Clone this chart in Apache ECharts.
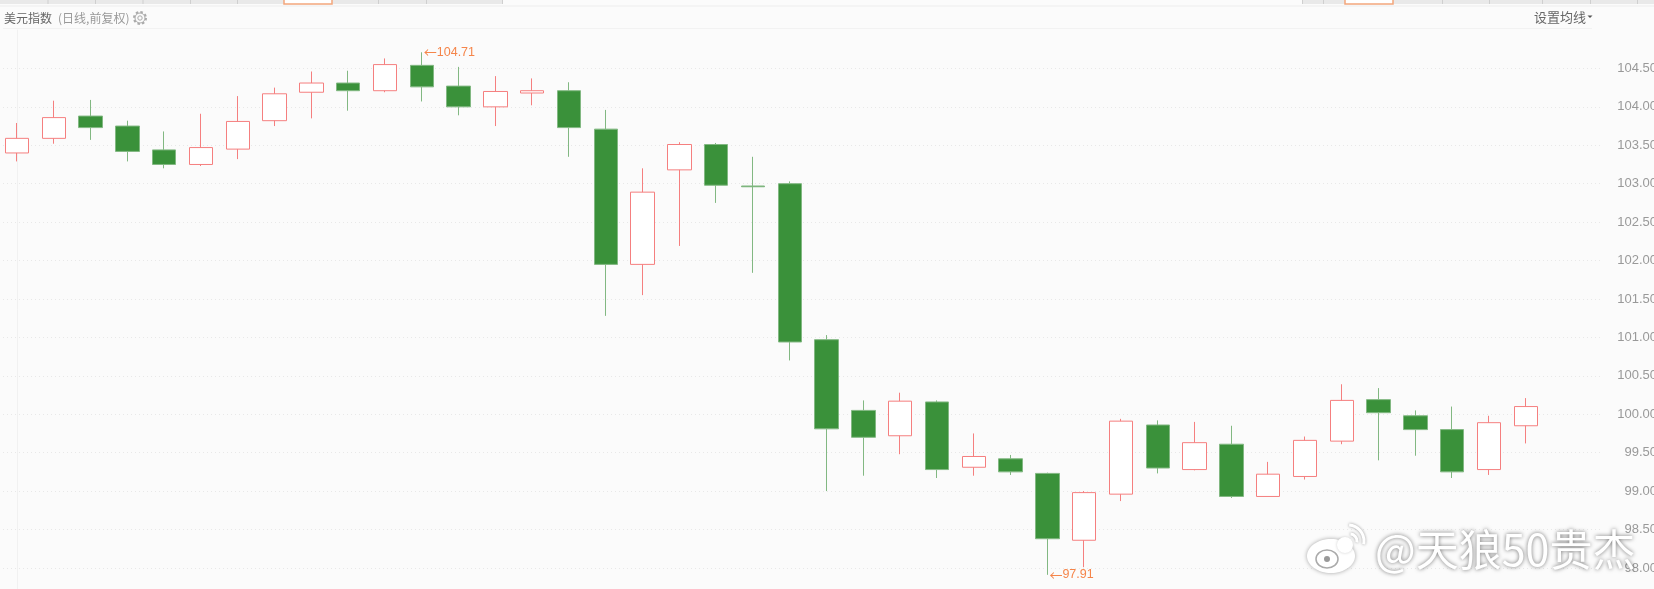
<!DOCTYPE html>
<html>
<head>
<meta charset="utf-8">
<style>
  html, body { margin: 0; padding: 0; background: #fbfbfb; }
  #chart { width: 1654px; height: 589px; }
</style>
</head>
<body>
<div id="chart"></div>
<script src="https://cdn.jsdelivr.net/npm/echarts@6/dist/echarts.min.js"></script>
<script>
  // 日K 数据
  const opens = [103.40, 103.59, 103.88, 103.75, 103.44, 103.25, 103.45, 103.82, 104.19, 104.31, 104.21, 104.54, 104.27, 104.00, 104.18, 104.21, 103.71, 101.95, 103.18, 103.51, 102.97, 103.00, 100.97, 100.05, 99.72, 100.16, 99.31, 99.42, 99.23, 98.36, 98.96, 99.86, 99.28, 99.61, 98.93, 99.19, 99.65, 100.19, 99.98, 99.80, 99.28, 99.85]
  const closes = [103.59, 103.86, 103.73, 103.42, 103.25, 103.47, 103.81, 104.17, 104.31, 104.21, 104.55, 104.26, 104.00, 104.20, 104.21, 103.73, 101.95, 102.89, 103.51, 102.98, 102.96, 100.94, 99.81, 99.70, 100.17, 99.28, 99.45, 99.25, 98.38, 98.98, 99.91, 99.30, 99.63, 98.93, 99.22, 99.66, 100.18, 100.02, 99.80, 99.25, 99.89, 100.10]
  const lows = [103.29, 103.52, 103.57, 103.29, 103.20, 103.23, 103.32, 103.75, 103.85, 103.95, 104.19, 104.07, 103.89, 103.75, 104.02, 103.35, 101.28, 101.55, 102.19, 102.75, 101.84, 100.70, 99.00, 99.20, 99.48, 99.17, 99.20, 99.21, 97.91, 98.01, 98.87, 99.23, 99.27, 98.91, 98.93, 99.15, 99.61, 99.40, 99.46, 99.17, 99.21, 99.62]
  const highs = [103.79, 104.08, 104.09, 103.82, 103.68, 103.91, 104.14, 104.25, 104.46, 104.47, 104.63, 104.71, 104.52, 104.40, 104.37, 104.32, 103.96, 103.20, 103.54, 103.53, 103.35, 103.03, 101.03, 100.18, 100.28, 100.18, 99.75, 99.47, 99.24, 99.00, 99.94, 99.92, 99.90, 99.85, 99.38, 99.71, 100.39, 100.34, 100.05, 100.10, 99.98, 100.21]
  const highIndex = 11
  const lowIndex = 28

  const candleData = opens.map((open, i) => [i, open, closes[i], lows[i], highs[i]])

  // 顶部标签栏的分隔位置
  const leftTabs = [47.5, 95, 142.5, 190, 237, 378, 426, 502]
  const rightTabs = [1302, 1323, 1442, 1489, 1542, 1590, 1637]

  const tabElements = []
  tabElements.push({ type: 'rect', shape: { x: 0, y: 0, width: 503, height: 4 }, style: { fill: '#e9e9e9' }, silent: true })
  tabElements.push({ type: 'rect', shape: { x: 1302, y: 0, width: 352, height: 4 }, style: { fill: '#e9e9e9' }, silent: true })
  leftTabs.concat(rightTabs).forEach(x => {
    tabElements.push({ type: 'rect', shape: { x: x, y: 0, width: 1, height: 4 }, style: { fill: '#cfcfcf' }, silent: true })
  })
  // 选中的标签
  ;[[284, 48], [1345, 48]].forEach(t => {
    tabElements.push({ type: 'rect', shape: { x: t[0], y: -2, width: t[1], height: 6 }, style: { fill: '#ffffff', stroke: '#f3a67c', lineWidth: 1.5 }, silent: true })
  })

  const graphicElements = tabElements.concat([
    { type: 'rect', shape: { x: 0, y: 5.5, width: 1654, height: 1 }, style: { fill: '#eeeeee' }, silent: true },
    { type: 'rect', shape: { x: 3, y: 28, width: 1589, height: 1 }, style: { fill: '#f2f2f2' }, silent: true },
    { type: 'text', style: { text: '美元指数', x: 4, y: 18, fill: '#666666', font: '12px "Noto Sans CJK SC"', verticalAlign: 'middle' }, silent: true },
    { type: 'text', style: { text: '(日线,前复权)', x: 58, y: 18, fill: '#999999', font: '12px "Noto Sans CJK SC"', verticalAlign: 'middle' }, silent: true },
    // 齿轮图标
    { type: 'circle', shape: { cx: 140, cy: 18, r: 5.8 }, style: { fill: 'none', stroke: '#aaaaaa', lineWidth: 2.4, lineDash: [2.4, 2.1] }, silent: true },
    { type: 'circle', shape: { cx: 140, cy: 18, r: 5 }, style: { fill: '#fbfbfb', stroke: '#aaaaaa', lineWidth: 1 }, silent: true },
    { type: 'circle', shape: { cx: 140, cy: 18, r: 2.2 }, style: { fill: 'none', stroke: '#aaaaaa', lineWidth: 1 }, silent: true },
    { type: 'text', style: { text: '设置均线', x: 1534, y: 17.5, fill: '#666666', font: '13px "Noto Sans CJK SC"', verticalAlign: 'middle' }, silent: true },
    { type: 'polygon', shape: { points: [[1587.5, 15.5], [1592.5, 15.5], [1590, 18]] }, style: { fill: '#555555' }, silent: true },
    // 水印
    { type: 'ellipse', z: 50, shape: { cx: 1331, cy: 556, rx: 24, ry: 17 }, style: { fill: '#ffffff', shadowBlur: 4, shadowColor: 'rgba(0,0,0,0.35)' }, silent: true },
    { type: 'circle', z: 50, shape: { cx: 1345, cy: 545, r: 8 }, style: { fill: '#ffffff', shadowBlur: 3, shadowColor: 'rgba(0,0,0,0.2)' }, silent: true },
    { type: 'ellipse', z: 51, shape: { cx: 1327, cy: 559, rx: 11, ry: 9 }, style: { fill: '#ffffff', stroke: '#aaaaaa', lineWidth: 1.5 }, silent: true },
    { type: 'circle', z: 51, shape: { cx: 1327, cy: 559, r: 3 }, style: { fill: '#999999' }, silent: true },
    { type: 'arc', z: 50, shape: { cx: 1350, cy: 541, r: 7, startAngle: -1.5, endAngle: 0.2 }, style: { fill: 'none', stroke: '#ffffff', lineWidth: 3, shadowBlur: 3, shadowColor: 'rgba(0,0,0,0.4)' }, silent: true },
    { type: 'arc', z: 50, shape: { cx: 1348, cy: 541, r: 16, startAngle: -1.5, endAngle: 0.2 }, style: { fill: 'none', stroke: '#ffffff', lineWidth: 3, shadowBlur: 3, shadowColor: 'rgba(0,0,0,0.4)' }, silent: true },
    { type: 'text', z: 50, style: { text: '@天狼50贵杰', x: 1375, y: 550, fill: '#ffffff', font: '43px "Noto Sans CJK SC"', verticalAlign: 'middle', textShadowBlur: 4, textShadowColor: 'rgba(0,0,0,0.55)' }, silent: true }
  ])

  const chart = echarts.init(document.getElementById('chart'))
  chart.setOption({
    animation: false,
    backgroundColor: '#fbfbfb',
    graphic: graphicElements,
    grid: { left: 3, width: 1599, top: 30, height: 576.35, outerBoundsMode: 'none' },
    xAxis: {
      type: 'value',
      min: -0.38,
      max: 43.07,
      show: false,
      splitLine: { show: false }
    },
    yAxis: {
      type: 'value',
      position: 'right',
      min: 97.5,
      max: 105,
      interval: 0.5,
      axisLine: { show: true, lineStyle: { color: '#f1f1f1', width: 1 } },
      axisTick: { show: false },
      axisLabel: {
        color: '#999999',
        fontSize: 13,
        fontFamily: '"Liberation Sans", Arial, sans-serif',
        align: 'right',
        margin: 55,
        padding: [3, 0, 0, 0],
        showMaxLabel: false,
        showMinLabel: false,
        formatter: value => value.toFixed(2)
      },
      splitLine: {
        show: true,
        showMaxLine: false,
        lineStyle: { color: '#e8e8e8', type: [1, 3], width: 1 }
      }
    },
    series: [
      {
        type: 'candlestick',
        barWidth: 24,
        encode: { x: 0, y: [1, 2, 3, 4] },
        data: candleData,
        itemStyle: {
          color: '#ffffff',
          color0: '#3a913a',
          borderColor: '#f57f7f',
          borderColor0: '#82b882',
          borderWidth: 1
        },
        markPoint: {
          symbol: 'circle',
          symbolSize: 0,
          silent: true,
          label: {
            show: true,
            position: 'right',
            distance: 2,
            color: '#f5854a',
            rich: {
              a: { fontFamily: '"Noto Sans CJK SC"', fontSize: 13, color: '#f5854a' },
              b: { fontFamily: '"Liberation Sans", Arial, sans-serif', fontSize: 12.5, color: '#f5854a' }
            }
          },
          data: [
            { coord: [highIndex, highs[highIndex]], value: highs[highIndex], label: { formatter: '{a|←}{b|' + highs[highIndex].toFixed(2) + '}' } },
            { coord: [lowIndex, lows[lowIndex]], value: lows[lowIndex], label: { formatter: '{a|←}{b|' + lows[lowIndex].toFixed(2) + '}' } }
          ]
        }
      }
    ]
  })
</script>
</body>
</html>
